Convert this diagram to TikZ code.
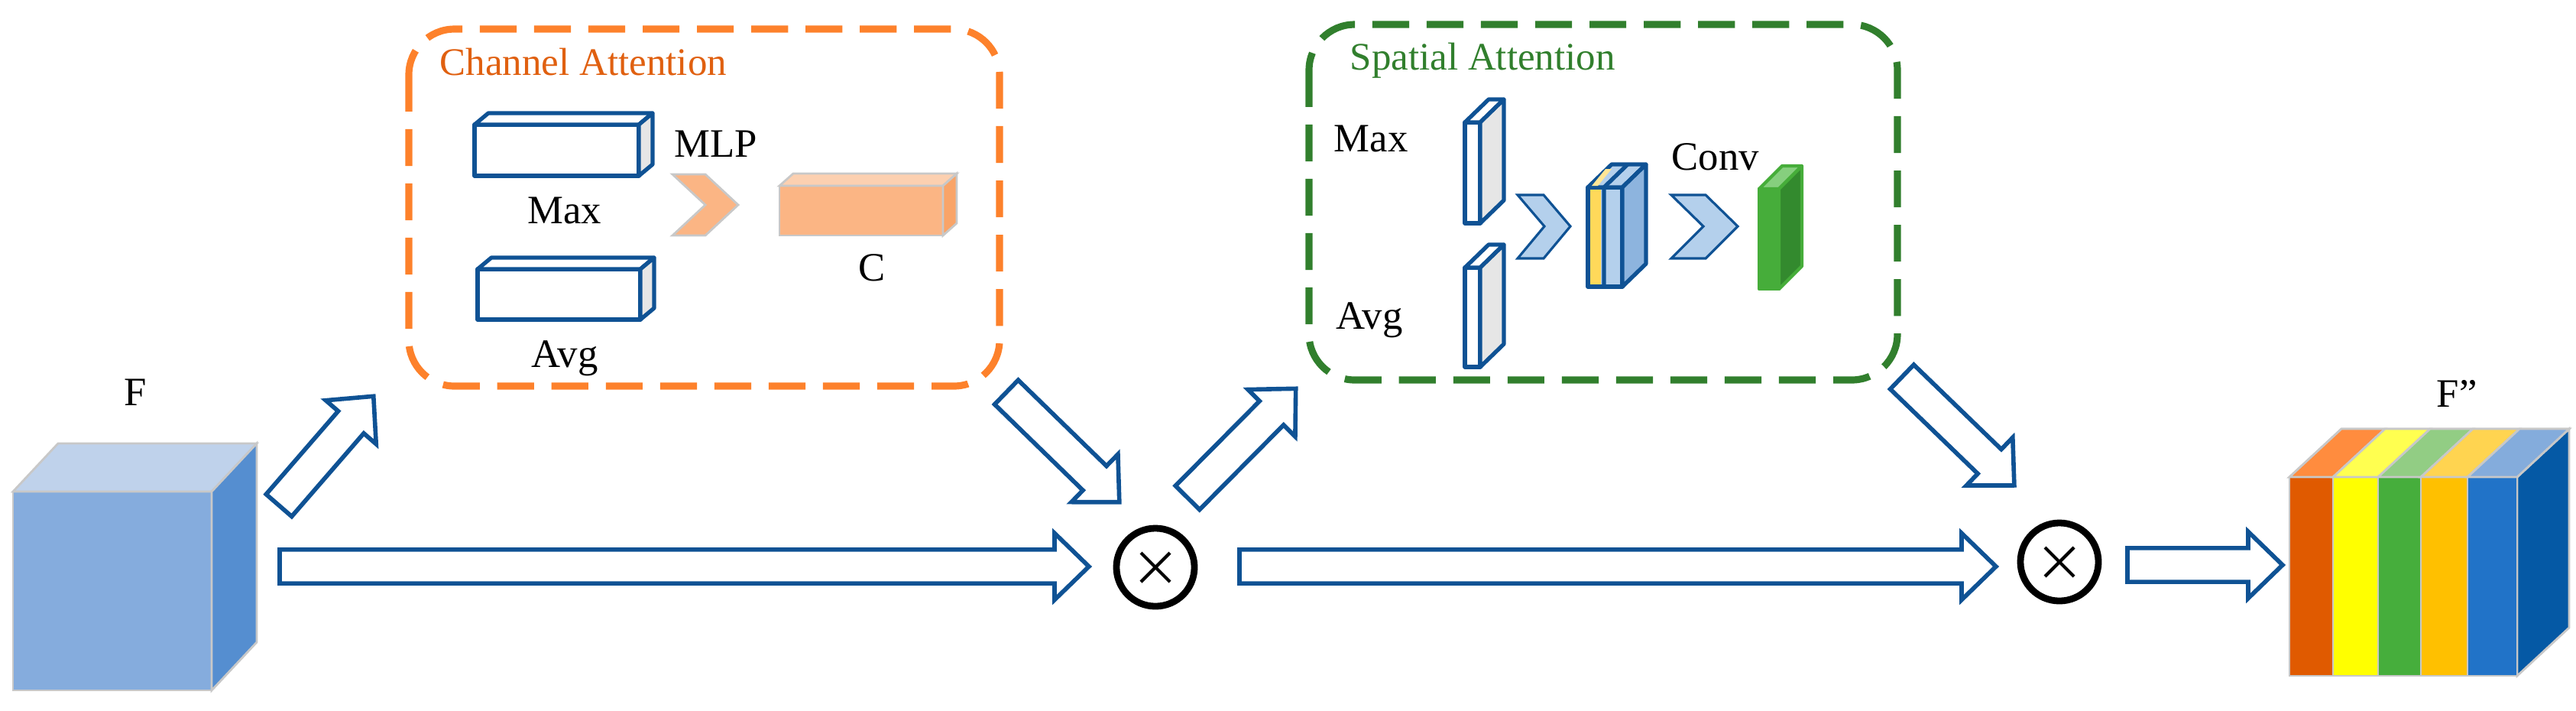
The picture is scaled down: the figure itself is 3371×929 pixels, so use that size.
\documentclass[tikz,border=0pt]{standalone}
\usepackage{fontspec}
\setmainfont{Liberation Serif}
\usetikzlibrary{calc}
\definecolor{lblue}{RGB}{15,82,148}
\definecolor{dorange}{RGB}{253,129,43}
\definecolor{torange}{RGB}{224,96,16}
\definecolor{dgreen}{RGB}{49,127,45}
\definecolor{edge}{RGB}{200,200,200}
\definecolor{fFront}{RGB}{133,172,221}
\definecolor{fTop}{RGB}{191,210,235}
\definecolor{fSide}{RGB}{85,142,208}
\definecolor{lgray}{RGB}{230,230,230}
\definecolor{oFront}{RGB}{251,181,132}
\definecolor{oTop}{RGB}{252,208,176}
\definecolor{oSide}{RGB}{249,164,104}
\definecolor{sbl}{RGB}{180,208,236}
\definecolor{sblSide}{RGB}{141,180,222}
\definecolor{syel}{RGB}{255,217,90}
\definecolor{syelT}{RGB}{255,230,150}
\definecolor{gFront}{RGB}{70,173,58}
\definecolor{gTop}{RGB}{134,207,126}
\definecolor{gSide}{RGB}{51,138,46}
\definecolor{ppSide}{RGB}{5,89,165}
\tikzset{
  lab/.style={font=\fontsize{15}{15}\selectfont, inner sep=0pt},
  ttl/.style={font=\fontsize{14.5}{14.5}\selectfont, inner sep=0pt, anchor=base west},
  dbox/.style={line width=2.6pt, dash pattern=on 13.7pt off 6.5pt, rounded corners=17pt},
  barr/.style={draw=lblue, line width=1.6pt, fill=white, line join=miter},
  otim/.style={circle, draw=black, line width=2.5pt, minimum size=1.02cm, inner sep=0pt},
  cubst/.style={draw=edge, line width=0.8pt},
  gcub/.style={draw=edge, line width=0.8pt},
  bcub/.style={draw=lblue, line width=1.5pt, line join=round},
  grcub/.style={draw=gFront, line width=1.2pt, line join=round},
}
% cuboid: x1 y1 x2 y2 dx dy front top side (style = cubst)
\newcommand\cuboid[9]{%
  \filldraw[cubst, fill=#7] (#1,#2) rectangle (#3,#4);
  \filldraw[cubst, fill=#8] (#1,#2) -- ({#1+#5},{#2-#6}) -- ({#3+#5},{#2-#6}) -- (#3,#2) -- cycle;
  \filldraw[cubst, fill=#9] (#3,#2) -- ({#3+#5},{#2-#6}) -- ({#3+#5},{#4-#6}) -- (#3,#4) -- cycle;
}
\newcommand\barrow[2]{%
  \draw[barr] let \p1=($(#2)-(#1)$), \n1={atan2(\y1,\x1)}, \n2={veclen(\x1,\y1)} in
   {[shift={(#1)}, rotate=\n1]
   (0pt,-6.3pt) -- (\n2-12.8pt,-6.3pt) -- (\n2-12.8pt,-12.4pt) -- (\n2,0pt) --
   (\n2-12.8pt,12.4pt) -- (\n2-12.8pt,6.3pt) -- (0pt,6.3pt) -- cycle};
}
\newcommand\chev[7]{% x1 x2 x3 ytop ymid ybot style
  \filldraw[#7] (#1,#4) -- (#2,#4) -- (#3,#5) -- (#2,#6) -- (#1,#6) -- ({#1+#3-#2},#5) -- cycle;
}
\begin{document}
\begin{tikzpicture}[x=0.01cm, y=-0.01cm]
\useasboundingbox (0,0) rectangle (3371,929);

% ---- F cube
\tikzset{cubst/.style={gcub}}
\cuboid{17}{643}{277}{903}{59}{63}{fFront}{fTop}{fSide}
\node[lab, anchor=base] (F) at (177,530) {F};

% ---- Channel attention box
\draw[dbox, draw=dorange] (535,38) rectangle (1308,505);
\node[ttl, text=torange] (cat) at (575,98) {Channel Attention};
\tikzset{cubst/.style={bcub}}
\cuboid{621}{163}{836}{230}{18}{15}{white}{white}{lgray}
\cuboid{625}{352}{838}{418}{18}{15}{white}{white}{lgray}
\node[lab, anchor=base] (cmax) at (739,292) {Max};
\node[lab, anchor=base] (cavg) at (739,480) {Avg};
\node[lab, anchor=base west] (mlp) at (882,205) {MLP};
\chev{880}{923}{966}{228}{268}{308}{fill=oFront, draw=edge, line width=0.8pt}
\tikzset{cubst/.style={gcub}}
\cuboid{1020}{243}{1234}{308}{18}{16}{oFront}{oTop}{oSide}
\node[lab, anchor=base] (cC) at (1141,367) {C};

% ---- Spatial attention box
\draw[dbox, draw=dgreen] (1713,32) rectangle (2483,497);
\node[ttl, text=dgreen] (sat) at (1766,91) {Spatial Attention};
\node[lab, anchor=base west] (smax) at (1745,198) {Max};
\node[lab, anchor=base west] (savg) at (1748,430) {Avg};
\tikzset{cubst/.style={bcub}}
\cuboid{1917}{160}{1937}{292}{31}{30}{white}{white}{lgray}
\cuboid{1917}{350}{1937}{480}{31}{30}{white}{white}{lgray}
\chev{1986}{2020}{2055}{255}{296}{338}{fill=sbl, draw=lblue, line width=0.9pt}
\cuboid{2078}{245}{2123}{375}{31}{30}{sbl}{sbl}{sblSide}
\fill[syel] (2081,248) rectangle (2095,372);
\fill[syelT] (2083,243) -- (2101,221) -- (2109,221) -- (2091,243) -- cycle;
\draw[lblue, line width=1.5pt] (2099,245) -- (2099,375) (2099,245) -- (2130,215);
\chev{2187}{2232}{2274}{255}{296}{338}{fill=sbl, draw=lblue, line width=0.9pt}
\node[lab, anchor=base west] (conv) at (2187,222) {Conv};
\tikzset{cubst/.style={grcub}}
\cuboid{2302}{247}{2328}{378}{30}{30}{gFront}{gTop}{gSide}

% ---- F'' cube
\tikzset{cubst/.style={gcub}}
\cuboid{2996}{624}{3294}{884}{68}{63}{white}{white}{ppSide}
\foreach \a/\b/\fc/\tc in {2996/3053/{224,90,0}/{255,140,62},3053/3112/{255,255,0}/{255,255,80},3112/3168/{70,174,60}/{146,205,132},3168/3229/{255,192,0}/{255,212,80},3229/3294/{33,115,200}/{132,172,220}}{
  \definecolor{fcol}{RGB}{\fc}\definecolor{tcol}{RGB}{\tc}
  \filldraw[draw=edge, line width=0.8pt, fill=fcol] (\a,624) rectangle (\b,884);
  \filldraw[draw=edge, line width=0.8pt, fill=tcol] (\a,624) -- ({\a+68},561) -- ({\b+68},561) -- (\b,624) -- cycle;
}
\node[lab, anchor=base west] (Fpp) at (3188,532) {F”};

% ---- multiplication nodes
\node[otim] (m1) at (1512,742) {};
\node[otim] (m2) at (2695,735) {};
\foreach \m in {m1,m2}{
  \draw[line width=1.2pt] ($(\m)+(-19,-19)$) -- ($(\m)+(19,19)$) ($(\m)+(-19,19)$) -- ($(\m)+(19,-19)$);
}

% ---- block arrows
\coordinate (a1s) at (366,741); \coordinate (a1e) at (1425,741);
\coordinate (a2s) at (1622,741); \coordinate (a2e) at (2612,741);
\coordinate (a3s) at (2784,739); \coordinate (a3e) at (2987,739);
\coordinate (d1s) at (365,661); \coordinate (d1e) at (489,518);
\coordinate (d2s) at (1317,513); \coordinate (d2e) at (1465,657);
\coordinate (d3s) at (1554,651); \coordinate (d3e) at (1696,508);
\coordinate (d4s) at (2489,493); \coordinate (d4e) at (2636,635);
\barrow{a1s}{a1e}
\barrow{a2s}{a2e}
\barrow{a3s}{a3e}
\barrow{d1s}{d1e}
\barrow{d2s}{d2e}
\barrow{d3s}{d3e}
\barrow{d4s}{d4e}
\end{tikzpicture}
\end{document}
